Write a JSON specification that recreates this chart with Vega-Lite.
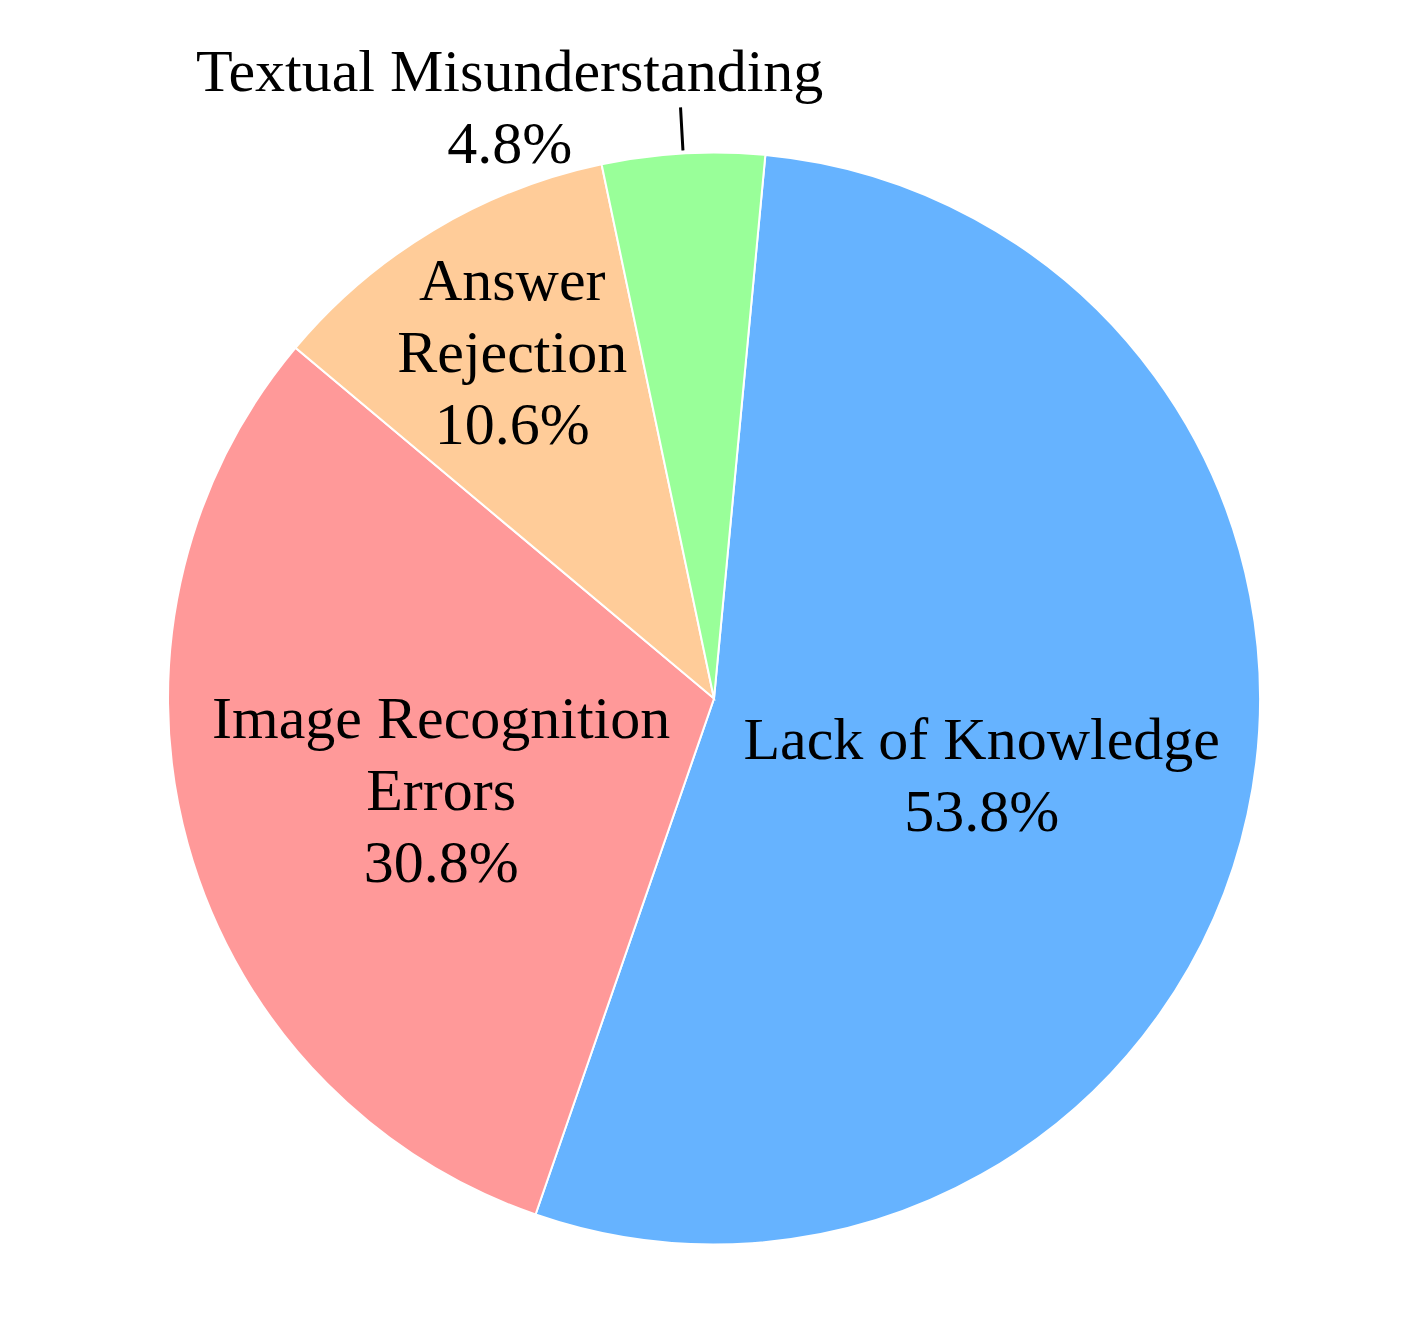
{
  "$schema": "https://vega.github.io/schema/vega-lite/v6.json",
  "width": 1396,
  "height": 1237,
  "autosize": {"type": "none"},
  "padding": {"left": 16, "top": 80, "right": 0, "bottom": 0},
  "background": "white",
  "data": {
    "values": [
      {"category": "Lack of Knowledge", "label": "Lack of Knowledge", "share": 0.538, "rank": 1},
      {"category": "Image Recognition Errors", "label": "Image Recognition\nErrors", "share": 0.308, "rank": 2},
      {"category": "Answer Rejection", "label": "Answer\nRejection", "share": 0.106, "rank": 3},
      {"category": "Textual Misunderstanding", "label": "Textual Misunderstanding", "share": 0.048, "rank": 4}
    ]
  },
  "transform": [
    {"calculate": "datum.label + '\\n' + format(datum.share, '.1%')", "as": "text"}
  ],
  "encoding": {
    "theta": {"field": "share", "type": "quantitative", "stack": true, "scale": {"range": [0.0942, 6.3774]}},
    "order": {"field": "rank", "type": "quantitative"}
  },
  "layer": [
    {
      "mark": {"type": "arc", "outerRadius": 546, "stroke": "white", "strokeWidth": 2},
      "encoding": {
        "color": {
          "field": "category",
          "type": "nominal",
          "scale": {
            "domain": ["Lack of Knowledge", "Image Recognition Errors", "Answer Rejection", "Textual Misunderstanding"],
            "range": ["#66b3ff", "#ff9999", "#ffcc99", "#99ff99"]
          },
          "legend": null
        }
      }
    },
    {
      "mark": {"type": "arc", "innerRadius": 549, "outerRadius": 592, "padAngle": 0.4, "fillOpacity": 0, "stroke": "black", "strokeWidth": 3},
      "encoding": {
        "strokeOpacity": {"condition": {"test": "datum.rank == 4", "value": 1}, "value": 0}
      }
    },
    {
      "mark": {"type": "text", "radius": 280, "dy": -17, "dx": -6, "font": "Liberation Serif", "fontSize": 60, "lineHeight": 72, "lineBreak": "\n", "align": "center", "baseline": "middle", "color": "black"},
      "encoding": {
        "text": {"field": "text"},
        "opacity": {"condition": {"test": "datum.rank == 1", "value": 1}, "value": 0}
      }
    },
    {
      "mark": {"type": "text", "radius": 280, "dy": -53, "dx": -3, "font": "Liberation Serif", "fontSize": 60, "lineHeight": 72, "lineBreak": "\n", "align": "center", "baseline": "middle", "color": "black"},
      "encoding": {
        "text": {"field": "text"},
        "opacity": {"condition": {"test": "datum.rank == 2", "value": 1}, "value": 0}
      }
    },
    {
      "mark": {"type": "text", "radius": 400, "dy": -73, "dx": 4, "font": "Liberation Serif", "fontSize": 60, "lineHeight": 72, "lineBreak": "\n", "align": "center", "baseline": "middle", "color": "black"},
      "encoding": {
        "text": {"field": "text"},
        "opacity": {"condition": {"test": "datum.rank == 3", "value": 1}, "value": 0}
      }
    },
    {
      "mark": {"type": "text", "radius": 590, "dx": -171, "dy": -36, "font": "Liberation Serif", "fontSize": 60, "lineHeight": 72, "lineBreak": "\n", "align": "center", "baseline": "middle", "color": "black"},
      "encoding": {
        "text": {"field": "text"},
        "opacity": {"condition": {"test": "datum.rank == 4", "value": 1}, "value": 0}
      }
    }
  ]
}
